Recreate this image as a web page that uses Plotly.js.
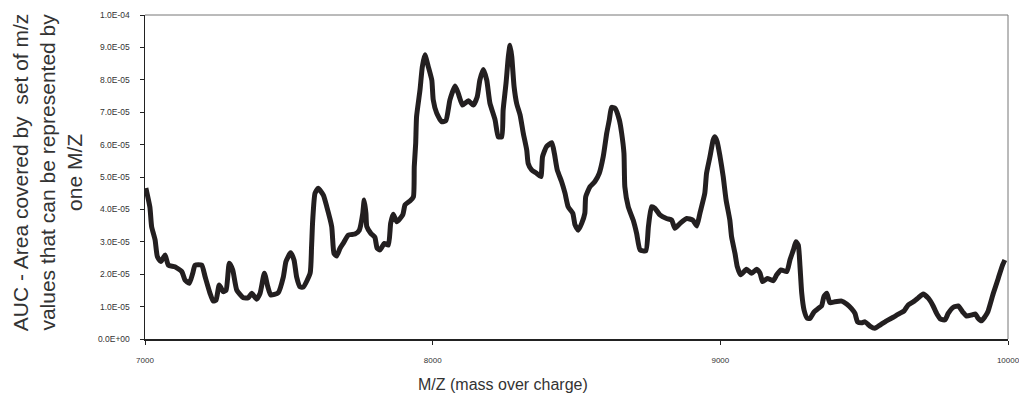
<!DOCTYPE html>
<html>
<head>
<meta charset="utf-8">
<script src="https://cdn.plot.ly/plotly-3.0.1.min.js"></script>
<style>html,body{margin:0;padding:0;background:#fff;overflow:hidden;}#chart{width:1019px;height:401px;}</style>
</head>
<body>
<div id="chart"></div>
<script>
const mz = [7003,7017,7023,7035,7043,7055,7070,7081,7104,7128,7139,7154,7166,7174,7197,7209,7226,7237,7247,7258,7272,7282,7293,7305,7319,7342,7359,7371,7388,7400,7415,7427,7437,7463,7481,7490,7506,7518,7527,7539,7550,7574,7579,7583,7591,7602,7620,7632,7649,7657,7666,7678,7689,7707,7730,7745,7757,7762,7768,7771,7785,7799,7807,7817,7832,7846,7854,7863,7875,7896,7904,7921,7933,7936,7941,7944,7956,7964,7973,7985,7997,8002,8014,8031,8046,8060,8078,8089,8104,8124,8141,8155,8164,8176,8188,8199,8217,8228,8240,8245,8255,8263,8269,8275,8283,8292,8304,8315,8327,8332,8344,8362,8376,8382,8396,8414,8423,8433,8448,8460,8471,8487,8495,8506,8518,8529,8532,8547,8564,8579,8593,8605,8614,8622,8634,8649,8657,8665,8668,8680,8697,8709,8721,8741,8750,8761,8773,8790,8813,8831,8842,8860,8883,8904,8918,8929,8946,8952,8964,8975,8981,8989,8999,9010,9020,9033,9039,9051,9059,9071,9091,9109,9126,9138,9147,9163,9184,9196,9211,9231,9242,9254,9263,9271,9277,9283,9291,9302,9312,9326,9340,9352,9360,9370,9381,9398,9422,9439,9456,9468,9477,9491,9503,9520,9537,9555,9578,9601,9624,9639,9653,9671,9688,9705,9723,9738,9752,9766,9781,9792,9810,9827,9842,9856,9874,9887,9896,9908,9920,9930,9949,9966,9981,9989];
const auc = [4.66e-5,4.07e-5,3.47e-5,3.06e-5,2.54e-5,2.39e-5,2.59e-5,2.28e-5,2.23e-5,2.08e-5,1.82e-5,1.72e-5,2.03e-5,2.28e-5,2.28e-5,1.92e-5,1.41e-5,1.17e-5,1.2e-5,1.67e-5,1.46e-5,1.51e-5,2.34e-5,2.13e-5,1.51e-5,1.27e-5,1.27e-5,1.41e-5,1.23e-5,1.41e-5,2.03e-5,1.61e-5,1.36e-5,1.43e-5,1.92e-5,2.39e-5,2.66e-5,2.44e-5,1.92e-5,1.61e-5,1.6e-5,2.03e-5,2.85e-5,3.67e-5,4.5e-5,4.65e-5,4.44e-5,4.08e-5,3.47e-5,2.64e-5,2.56e-5,2.8e-5,2.95e-5,3.21e-5,3.24e-5,3.36e-5,3.88e-5,4.29e-5,3.88e-5,3.47e-5,3.26e-5,3.14e-5,2.8e-5,2.75e-5,2.95e-5,2.9e-5,3.57e-5,3.85e-5,3.62e-5,3.83e-5,4.14e-5,4.26e-5,4.39e-5,5.32e-5,6.04e-5,6.86e-5,7.69e-5,8.4e-5,8.77e-5,8.4e-5,7.99e-5,7.38e-5,6.97e-5,6.71e-5,6.74e-5,7.38e-5,7.81e-5,7.58e-5,7.22e-5,7.35e-5,7.22e-5,7.48e-5,7.99e-5,8.32e-5,7.99e-5,7.28e-5,6.76e-5,6.24e-5,6.24e-5,7.07e-5,7.89e-5,8.71e-5,9.07e-5,8.71e-5,7.79e-5,7.27e-5,6.91e-5,6.35e-5,5.83e-5,5.42e-5,5.22e-5,5.11e-5,5.01e-5,5.63e-5,5.94e-5,6.06e-5,5.73e-5,5.22e-5,4.86e-5,4.5e-5,4.08e-5,3.88e-5,3.52e-5,3.36e-5,3.57e-5,3.88e-5,4.39e-5,4.7e-5,4.86e-5,5.11e-5,5.63e-5,6.35e-5,6.76e-5,7.15e-5,7.12e-5,6.76e-5,6.35e-5,5.73e-5,4.7e-5,4.08e-5,3.67e-5,3.26e-5,2.75e-5,2.72e-5,3.47e-5,4.08e-5,4.03e-5,3.83e-5,3.72e-5,3.67e-5,3.42e-5,3.57e-5,3.72e-5,3.67e-5,3.49e-5,3.88e-5,4.5e-5,5.11e-5,5.63e-5,6.14e-5,6.24e-5,6.09e-5,5.63e-5,5.01e-5,4.29e-5,3.67e-5,3.16e-5,2.64e-5,2.23e-5,1.98e-5,2.15e-5,2.03e-5,2.15e-5,2.03e-5,1.77e-5,1.87e-5,1.8e-5,1.98e-5,2.13e-5,2.08e-5,2.44e-5,2.75e-5,3.0e-5,2.9e-5,2.23e-5,1.41e-5,8.95e-6,6.4e-6,6.4e-6,8.4e-6,9.4e-6,1.02e-5,1.31e-5,1.41e-5,1.12e-5,1.15e-5,1.17e-5,1.08e-5,9.4e-6,7.9e-6,5.3e-6,5.0e-6,5.3e-6,4.0e-6,3.3e-6,4.3e-6,5.6e-6,6.7e-6,7.9e-6,8.7e-6,1.05e-5,1.15e-5,1.27e-5,1.39e-5,1.26e-5,1.05e-5,7.9e-6,6.1e-6,5.9e-6,7.9e-6,9.8e-6,1.02e-5,8.4e-6,7.1e-6,7.4e-6,7.7e-6,6.4e-6,5.6e-6,6.9e-6,8.4e-6,1.41e-5,1.87e-5,2.28e-5,2.44e-5];
const xTickVals = [7000,8000,9000,10000];
const xTickText = ["7000","8000","9000","10000"];
const yTickVals = [0,1e-5,2e-5,3e-5,4e-5,5e-5,6e-5,7e-5,8e-5,9e-5,1e-4];
const yTickText = ["0.0E+00","1.0E-05","2.0E-05","3.0E-05","4.0E-05","5.0E-05","6.0E-05","7.0E-05","8.0E-05","9.0E-05","1.0E-04"];
const xTitle = "M/Z (mass over charge)";
const yTitle = "AUC - Area covered by  set of m/z<br>values that can be represented by<br>one M/Z";

const trace = {x: mz, y: auc, type: 'scatter', mode: 'lines',
  line: {color: '#231f20', width: 5, shape: 'spline', smoothing: 0.5}, hoverinfo: 'skip'};

const layout = {
  width: 1019, height: 401,
  margin: {l: 145, r: 11, t: 15, b: 62},
  paper_bgcolor: '#ffffff', plot_bgcolor: '#ffffff',
  showlegend: false,
  font: {family: 'Liberation Sans, Arial, sans-serif', color: '#333333'},
  xaxis: {range: [7000, 10000], tickvals: xTickVals, ticktext: xTickText,
    ticks: 'outside', ticklen: 4, tickcolor: '#222', tickwidth: 1,
    showline: true, linecolor: '#222', linewidth: 1.5, showgrid: false, zeroline: false,
    tickfont: {size: 8, color: '#333'}, ticklabelstandoff: 9, ticklabeloverflow: 'allow', fixedrange: true},
  yaxis: {range: [0, 1e-4], tickvals: yTickVals, ticktext: yTickText,
    ticks: 'outside', ticklen: 4, tickcolor: '#222', tickwidth: 1,
    showline: true, linecolor: '#222', linewidth: 1.5, showgrid: false, zeroline: false,
    tickfont: {size: 8.5, color: '#333'}, ticklabelstandoff: 8, fixedrange: true},
  shapes: [
    {type: 'line', xref: 'paper', yref: 'paper', x0: 0, x1: 1, y0: 1, y1: 1, line: {color: '#777', width: 1}},
    {type: 'line', xref: 'paper', yref: 'paper', x0: 1, x1: 1, y0: 0, y1: 1, line: {color: '#777', width: 1}}
  ],
  annotations: [
    {text: xTitle, xref: 'paper', yref: 'paper', x: 0.415, y: -0.139, yanchor: 'middle', xanchor: 'center',
      showarrow: false, font: {size: 16, color: '#333'}},
    {text: yTitle, xref: 'paper', yref: 'paper', x: -0.1124, y: 0.515, xanchor: 'center', yanchor: 'middle',
      textangle: -90, showarrow: false, font: {size: 21, color: '#333'}}
  ]
};
Plotly.newPlot('chart', [trace], layout, {staticPlot: true, displayModeBar: false});
</script>
</body>
</html>
